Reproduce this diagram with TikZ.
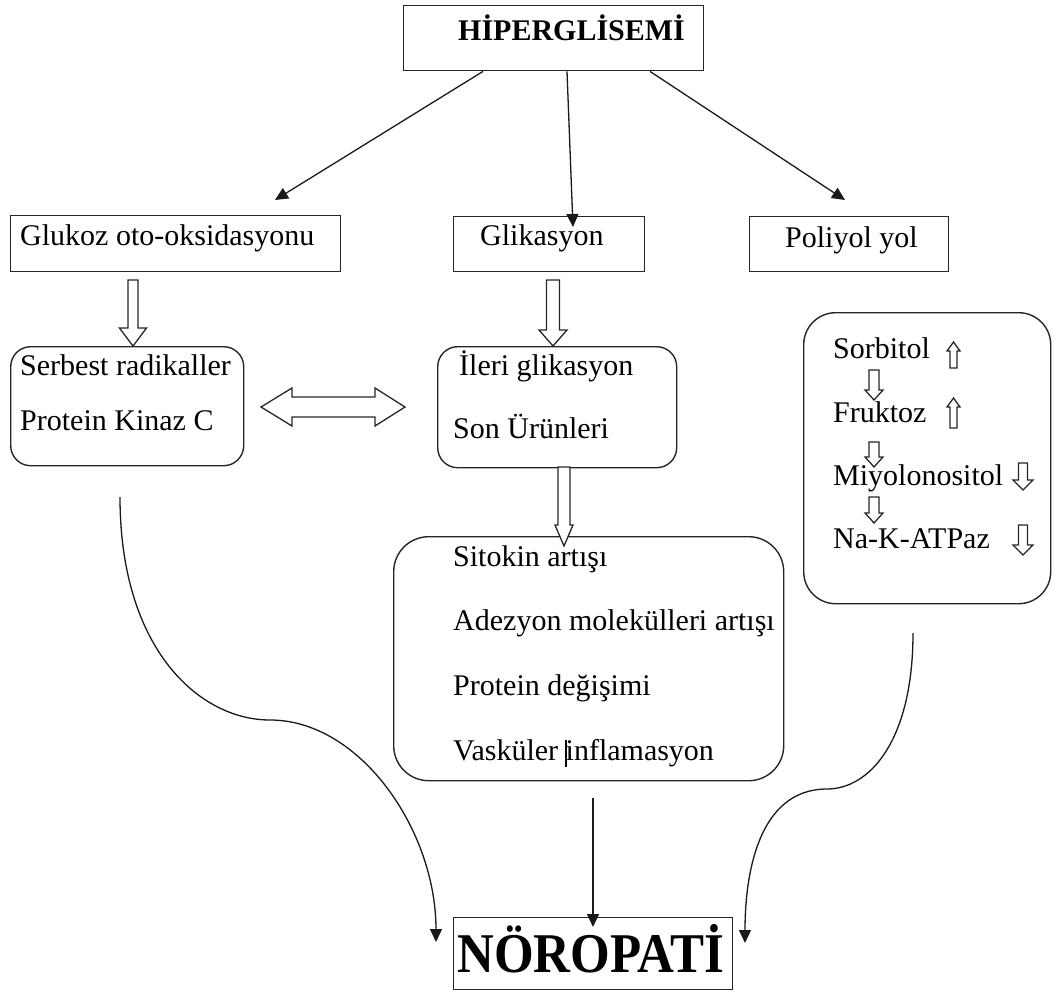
\documentclass[tikz,border=0pt]{standalone}
\usepackage{fontspec}
\usepackage{graphicx}
\setmainfont{Liberation Serif}
\usetikzlibrary{arrows.meta,calc}
\newcommand\myDown[6]{% cx, ytop, ytip, shaft half, head half, head length
  \draw[blk] (#1-#4,#2) -- (#1+#4,#2) -- (#1+#4,#3-#6) -- (#1+#5,#3-#6) -- (#1,#3) -- (#1-#5,#3-#6) -- (#1-#4,#3-#6) -- cycle;}
\newcommand\myUp[6]{% cx, ytip, ybot, shaft half, head half, head length
  \draw[blk] (#1-#4,#3) -- (#1+#4,#3) -- (#1+#4,#2+#6) -- (#1+#5,#2+#6) -- (#1,#2) -- (#1-#5,#2+#6) -- (#1-#4,#2+#6) -- cycle;}
\tikzset{
  box/.style={draw=black!85, line width=1.4pt, inner sep=0, anchor=north west},
  rbox/.style={box, rounded corners=22pt},
  txt/.style={inner sep=0, anchor=base west, font=\fontsize{30}{35}\selectfont},
  arr/.style={-{Triangle[length=13pt,width=12pt]}, line width=1.3pt, draw=black!90},
  blk/.style={draw=black!85, fill=white, line width=1.3pt, line join=miter},
}
\begin{document}
\begin{tikzpicture}[x=1pt,y=-1pt]
\useasboundingbox (0,0) rectangle (1055,991);

% boxes
\node[box, minimum width=300, minimum height=65] (hip) at (403,5) {};
\node[box, minimum width=330, minimum height=56] (glu) at (10,215) {};
\node[box, minimum width=191, minimum height=55] (gli) at (453,216) {};
\node[box, minimum width=199, minimum height=55] (pol) at (749,216) {};
\node[rbox, minimum width=233, minimum height=119, rounded corners=20pt] (lb) at (10,346) {};
\node[rbox, minimum width=239, minimum height=121, rounded corners=20pt] (mb) at (437,346) {};
\node[rbox, minimum width=390, minimum height=244, rounded corners=35pt] (bb) at (393,536) {};
\node[rbox, minimum width=247, minimum height=291, rounded corners=32pt] (rb) at (803,312) {};
\node[box, minimum width=279, minimum height=72] (noro) at (453,917) {};

% texts
\node[txt, font=\fontsize{30}{35}\selectfont\bfseries] (hipt) at (458,40) {HİPERGLİSEMİ};
\node[txt] (glut) at (20,245) {Glukoz oto-oksidasyonu};
\node[txt] (glit) at (480,245) {Glikasyon};
\node[txt] (polt) at (785,247) {Poliyol yol};
\node[txt] (lt1) at (20,375) {Serbest radikaller};
\node[txt] (lt2) at (20,430) {Protein Kinaz C};
\node[txt] (mt1) at (459,375) {İleri glikasyon};
\node[txt] (mt2) at (453,438) {Son Ürünleri};
\node[txt] (bt1) at (453,566) {Sitokin artışı};
\node[txt] (bt2) at (453,630) {Adezyon molekülleri artışı};
\node[txt] (bt3) at (453,695) {Protein değişimi};
\node[txt] (bt4) at (453,760) {Vasküler inflamasyon};
\node[txt] (rt1) at (833,358) {Sorbitol};
\node[txt] (rt2) at (833,422) {Fruktoz};
\node[txt] (rt3) at (833,485) {Miyolonositol};
\node[txt] (rt4) at (833,548) {Na-K-ATPaz};
\node[txt, font=\fontsize{51}{56}\selectfont\bfseries] (norot) at (457,972) {\scalebox{1}[1.1]{NÖROPATİ}};

% cursor bar
\draw[line width=2.5pt] (566,740) -- (566,767);

% coordinates for connectors
\coordinate (gluIn) at (275,200);
\coordinate (gliIn) at (573,227);
\coordinate (polIn) at (845,200);
\coordinate (lcs) at (120,497);
\coordinate (lcm) at (270,720);
\coordinate (lce) at (436,942);
\coordinate (rcs) at (913,633);
\coordinate (rcm) at (827,789);
\coordinate (rce) at (745,943);
\coordinate (mcs) at (593,798);
\coordinate (mce) at (593,927);

% top arrows
\draw[arr] ($(hip.south west)+(80,0)$) -- (gluIn);
\draw[arr] ($(hip.south west)+(164,0)$) -- (gliIn);
\draw[arr] ($(hip.south west)+(247,0)$) -- (polIn);

% curves to NÖROPATİ
\draw[arr] (lcs) .. controls (120,650) and (200,720) .. (lcm) .. controls (360,720) and (436,830) .. (lce);
\draw[arr] (rcs) .. controls (913,740) and (870,789) .. (rcm) .. controls (760,789) and (745,870) .. (rce);
\draw[arr] (mcs) -- (mce);

% hollow block arrows
\myDown{133}{280}{346}{5}{13.5}{18}
\myDown{553}{280}{346}{6.5}{14}{16}
\myDown{564}{467}{546}{6}{9}{21}
\draw[blk] (261,407) -- (292,388) -- (292,397) -- (375,397) -- (375,388) -- (405,407) -- (375,426) -- (375,417) -- (292,417) -- (292,426) -- cycle;

% right box small arrows
\myUp{953.5}{342}{368}{3.5}{6.5}{9}
\myDown{874}{370}{400}{5}{9}{10}
\myUp{953.5}{398}{428}{3.5}{6.5}{9}
\myDown{874}{442}{467}{5}{9}{10}
\myDown{1023}{463}{490}{4.5}{10}{10}
\myDown{874}{497}{523}{5}{9}{10}
\myDown{1023}{525}{555}{4.5}{10}{10}
\end{tikzpicture}
\end{document}
